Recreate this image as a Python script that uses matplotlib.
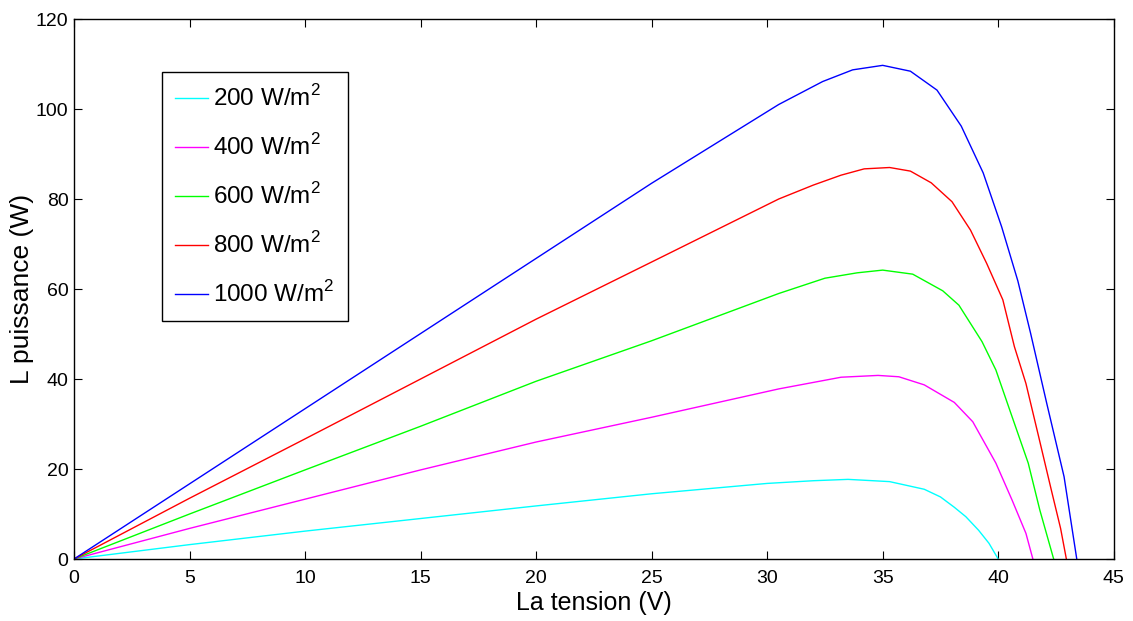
import matplotlib
matplotlib.use("Agg")
import matplotlib.pyplot as plt

plt.rcParams['font.family'] = ['Liberation Sans', 'DejaVu Sans']
plt.rcParams['mathtext.fontset'] = 'custom'
plt.rcParams['mathtext.rm'] = 'Liberation Sans'

# P-V curves for each irradiance level
v_200 = [0, 5, 10, 15, 20, 25, 30, 32, 33.5, 35.3, 36.8, 37.5, 38.1, 38.6, 39.15, 39.6, 40.0]
p_200 = [0, 3.2, 6.2, 9.0, 11.8, 14.5, 16.8, 17.4, 17.7, 17.2, 15.5, 13.8, 11.5, 9.4, 6.4, 3.5, 0]

v_400 = [0, 5, 10, 15, 20, 25, 30.5, 33.2, 34.8, 35.7, 36.8, 38.1, 38.9, 39.9, 40.6, 41.2, 41.5]
p_400 = [0, 6.8, 13.3, 19.8, 26.0, 31.5, 37.8, 40.4, 40.8, 40.5, 38.7, 34.8, 30.5, 21.3, 13.1, 5.7, 0]

v_600 = [0, 5, 10, 15, 20, 25, 30.5, 32.5, 33.9, 35.0, 36.3, 37.6, 38.3, 39.3, 39.9, 40.5, 41.3, 41.8, 42.4]
p_600 = [0, 10, 19.8, 29.5, 39.5, 48.5, 59.0, 62.4, 63.6, 64.2, 63.3, 59.6, 56.4, 48.3, 42.0, 33.1, 21.3, 10.9, 0]

v_800 = [0, 5, 10, 15, 20, 25, 30.5, 32.0, 33.2, 34.2, 35.3, 36.2, 37.1, 38.0, 38.8, 39.5,
         40.2, 40.7, 41.2, 41.75, 42.3, 42.7, 42.95]
p_800 = [0, 13.5, 26.7, 40.0, 53.3, 66.0, 80.0, 83.1, 85.3, 86.7, 87.0, 86.2, 83.6, 79.4, 73.1, 65.7,
         57.6, 47.2, 39.0, 27.2, 15.3, 6.8, 0]

v_1000 = [0, 5, 10, 15, 20, 25, 30.5, 32.4, 33.7, 35.0, 36.2, 37.35, 38.4, 39.35, 40.15, 40.85,
          41.4, 42.1, 42.85, 43.4]
p_1000 = [0, 16.7, 33.4, 50.1, 66.8, 83.5, 101.0, 106.1, 108.7, 109.7, 108.4, 104.2, 96.2, 85.8, 73.8, 61.8,
          50.2, 34.6, 18.3, 0]

labels = ['200 W/m$^2$', '400 W/m$^2$', '600 W/m$^2$', '800 W/m$^2$', '1000 W/m$^2$']
colors = ['#00FFFF', '#FF00FF', '#00FF00', '#FF0000', '#0000FF']
series = [(v_200, p_200), (v_400, p_400), (v_600, p_600), (v_800, p_800), (v_1000, p_1000)]

fig = plt.figure(figsize=(11.33, 6.21), dpi=100)
ax = fig.add_axes([0.0653, 0.0998, 0.9177, 0.8696])

for (v, p), lab, c in zip(series, labels, colors):
    ax.plot(v, p, color=c, lw=1.0, label=lab)

ax.set_xlim(0, 45)
ax.set_ylim(0, 120)
ax.set_xticks(range(0, 46, 5))
ax.set_yticks(range(0, 121, 20))
ax.tick_params(direction='in', top=True, right=True, labelsize=14, length=6)
ax.tick_params(axis='x', pad=8)
ax.tick_params(axis='y', pad=4)
for s in ax.spines.values():
    s.set_linewidth(1.0)

ax.set_xlabel('La tension (V)', fontsize=18, labelpad=3)
ax.set_ylabel('L puissance (W)', fontsize=19, labelpad=1)

leg = ax.legend(loc='upper left', bbox_to_anchor=(0.0846, 0.902), fontsize=17.5,
                fancybox=False, edgecolor='black', framealpha=1, handlelength=1.35,
                handletextpad=0.2, labelspacing=0.95, borderpad=0.55, borderaxespad=0)
leg.get_frame().set_linewidth(1.0)

fig.savefig('out.png', dpi=100)
